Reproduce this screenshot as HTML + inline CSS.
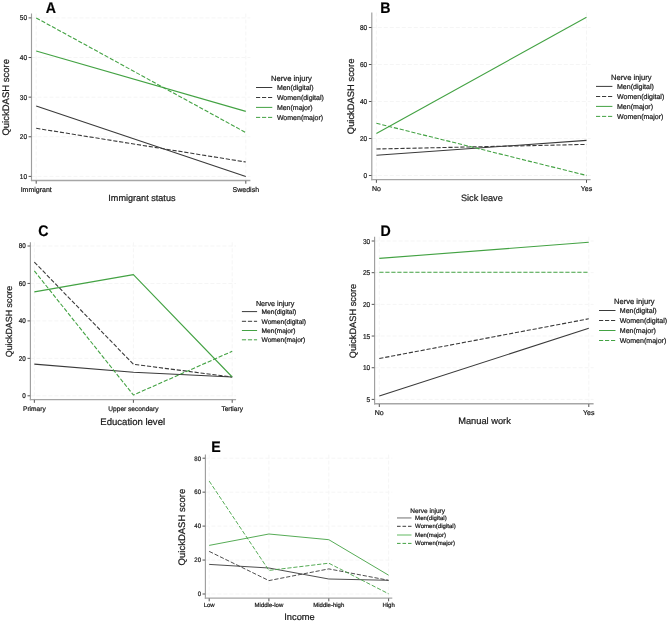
<!DOCTYPE html>
<html><head><meta charset="utf-8"><style>
html,body{margin:0;padding:0;background:#fff;}
body{width:669px;height:622px;overflow:hidden;}
svg{display:block;font-family:"Liberation Sans", sans-serif;will-change:transform;}
text{stroke:#1a1a1a;stroke-width:0.22px;text-rendering:geometricPrecision;}
</style></head><body>
<svg width="669" height="622" viewBox="0 0 669 622">
<rect width="669" height="622" fill="#fff"/>
<line x1="31.50" y1="176.40" x2="250.40" y2="176.40" stroke="#f5f5f5" stroke-width="1.0" stroke-dasharray="4 2" />
<line x1="31.50" y1="136.78" x2="250.40" y2="136.78" stroke="#f5f5f5" stroke-width="1.0" stroke-dasharray="4 2" />
<line x1="31.50" y1="97.15" x2="250.40" y2="97.15" stroke="#f5f5f5" stroke-width="1.0" stroke-dasharray="4 2" />
<line x1="31.50" y1="57.53" x2="250.40" y2="57.53" stroke="#f5f5f5" stroke-width="1.0" stroke-dasharray="4 2" />
<line x1="31.50" y1="17.90" x2="250.40" y2="17.90" stroke="#f5f5f5" stroke-width="1.0" stroke-dasharray="4 2" />
<line x1="36.20" y1="13.50" x2="36.20" y2="180.50" stroke="#f5f5f5" stroke-width="1.0" stroke-dasharray="4 2" />
<line x1="245.80" y1="13.50" x2="245.80" y2="180.50" stroke="#f5f5f5" stroke-width="1.0" stroke-dasharray="4 2" />
<line x1="31.50" y1="13.50" x2="31.50" y2="181.10" stroke="#9e9e9e" stroke-width="1.15" />
<line x1="30.90" y1="180.50" x2="250.40" y2="180.50" stroke="#a6a6a6" stroke-width="1.4" />
<line x1="28.60" y1="176.40" x2="31.20" y2="176.40" stroke="#555555" stroke-width="1" />
<text transform="translate(27.00,178.94) scale(0.92,1)" font-size="7.09" text-anchor="end" fill="#1a1a1a">10</text>
<line x1="28.60" y1="136.78" x2="31.20" y2="136.78" stroke="#555555" stroke-width="1" />
<text transform="translate(27.00,139.31) scale(0.92,1)" font-size="7.09" text-anchor="end" fill="#1a1a1a">20</text>
<line x1="28.60" y1="97.15" x2="31.20" y2="97.15" stroke="#555555" stroke-width="1" />
<text transform="translate(27.00,99.69) scale(0.92,1)" font-size="7.09" text-anchor="end" fill="#1a1a1a">30</text>
<line x1="28.60" y1="57.53" x2="31.20" y2="57.53" stroke="#555555" stroke-width="1" />
<text transform="translate(27.00,60.06) scale(0.92,1)" font-size="7.09" text-anchor="end" fill="#1a1a1a">40</text>
<line x1="28.60" y1="17.90" x2="31.20" y2="17.90" stroke="#555555" stroke-width="1" />
<text transform="translate(27.00,20.44) scale(0.92,1)" font-size="7.09" text-anchor="end" fill="#1a1a1a">50</text>
<line x1="36.20" y1="180.80" x2="36.20" y2="183.70" stroke="#555555" stroke-width="1" />
<text x="36.20" y="191.91" font-size="7.0" text-anchor="middle" font-weight="normal" fill="#1a1a1a" >Immigrant</text>
<line x1="245.80" y1="180.80" x2="245.80" y2="183.70" stroke="#555555" stroke-width="1" />
<text x="245.80" y="191.91" font-size="7.0" text-anchor="middle" font-weight="normal" fill="#1a1a1a" >Swedish</text>
<polyline points="36.20,105.90 245.80,176.50" fill="none" stroke="#3a3a3a" stroke-width="1.1" stroke-linejoin="round"/>
<polyline points="36.20,128.30 245.80,162.00" fill="none" stroke="#3a3a3a" stroke-width="1.1" stroke-dasharray="4.2 1.8" stroke-linejoin="round"/>
<polyline points="36.20,51.00 245.80,111.40" fill="none" stroke="#43a243" stroke-width="1.1" stroke-linejoin="round"/>
<polyline points="36.20,17.90 245.80,132.60" fill="none" stroke="#43a243" stroke-width="1.1" stroke-dasharray="4.2 1.8" stroke-linejoin="round"/>
<text x="141.90" y="201.10" font-size="9.1" text-anchor="middle" font-weight="normal" fill="#1a1a1a" >Immigrant status</text>
<text transform="translate(9.20,97.30) rotate(-90)" x="0" y="0" font-size="9.5" text-anchor="middle" fill="#1a1a1a">QuickDASH score</text>
<text transform="translate(45.70,12.70) scale(0.92,1)" font-size="15.4" font-weight="bold" fill="#000">A</text>
<text x="271.00" y="81.40" font-size="7.65" text-anchor="start" font-weight="normal" fill="#1a1a1a" >Nerve injury</text>
<line x1="256.00" y1="87.50" x2="272.30" y2="87.50" stroke="#3a3a3a" stroke-width="1.0" />
<text x="276.90" y="89.91" font-size="7.0" text-anchor="start" font-weight="normal" fill="#1a1a1a" >Men(digital)</text>
<line x1="256.00" y1="97.50" x2="272.30" y2="97.50" stroke="#3a3a3a" stroke-width="1.0" stroke-dasharray="4.2 1.8" />
<text x="276.90" y="99.91" font-size="7.0" text-anchor="start" font-weight="normal" fill="#1a1a1a" >Women(digital)</text>
<line x1="256.00" y1="107.40" x2="272.30" y2="107.40" stroke="#43a243" stroke-width="1.0" />
<text x="276.90" y="109.81" font-size="7.0" text-anchor="start" font-weight="normal" fill="#1a1a1a" >Men(major)</text>
<line x1="256.00" y1="117.40" x2="272.30" y2="117.40" stroke="#43a243" stroke-width="1.0" stroke-dasharray="4.2 1.8" />
<text x="276.90" y="119.81" font-size="7.0" text-anchor="start" font-weight="normal" fill="#1a1a1a" >Women(major)</text>
<line x1="371.80" y1="175.50" x2="590.60" y2="175.50" stroke="#f5f5f5" stroke-width="1.0" stroke-dasharray="4 2" />
<line x1="371.80" y1="138.50" x2="590.60" y2="138.50" stroke="#f5f5f5" stroke-width="1.0" stroke-dasharray="4 2" />
<line x1="371.80" y1="101.50" x2="590.60" y2="101.50" stroke="#f5f5f5" stroke-width="1.0" stroke-dasharray="4 2" />
<line x1="371.80" y1="64.50" x2="590.60" y2="64.50" stroke="#f5f5f5" stroke-width="1.0" stroke-dasharray="4 2" />
<line x1="371.80" y1="27.50" x2="590.60" y2="27.50" stroke="#f5f5f5" stroke-width="1.0" stroke-dasharray="4 2" />
<line x1="376.40" y1="12.50" x2="376.40" y2="179.60" stroke="#f5f5f5" stroke-width="1.0" stroke-dasharray="4 2" />
<line x1="586.50" y1="12.50" x2="586.50" y2="179.60" stroke="#f5f5f5" stroke-width="1.0" stroke-dasharray="4 2" />
<line x1="371.80" y1="12.50" x2="371.80" y2="180.20" stroke="#9e9e9e" stroke-width="1.15" />
<line x1="371.20" y1="179.60" x2="590.60" y2="179.60" stroke="#a6a6a6" stroke-width="1.4" />
<line x1="368.90" y1="175.50" x2="371.50" y2="175.50" stroke="#555555" stroke-width="1" />
<text transform="translate(367.20,178.04) scale(0.92,1)" font-size="7.09" text-anchor="end" fill="#1a1a1a">0</text>
<line x1="368.90" y1="138.50" x2="371.50" y2="138.50" stroke="#555555" stroke-width="1" />
<text transform="translate(367.20,141.04) scale(0.92,1)" font-size="7.09" text-anchor="end" fill="#1a1a1a">20</text>
<line x1="368.90" y1="101.50" x2="371.50" y2="101.50" stroke="#555555" stroke-width="1" />
<text transform="translate(367.20,104.04) scale(0.92,1)" font-size="7.09" text-anchor="end" fill="#1a1a1a">40</text>
<line x1="368.90" y1="64.50" x2="371.50" y2="64.50" stroke="#555555" stroke-width="1" />
<text transform="translate(367.20,67.04) scale(0.92,1)" font-size="7.09" text-anchor="end" fill="#1a1a1a">60</text>
<line x1="368.90" y1="27.50" x2="371.50" y2="27.50" stroke="#555555" stroke-width="1" />
<text transform="translate(367.20,30.04) scale(0.92,1)" font-size="7.09" text-anchor="end" fill="#1a1a1a">80</text>
<line x1="376.40" y1="179.90" x2="376.40" y2="182.80" stroke="#555555" stroke-width="1" />
<text x="376.40" y="190.91" font-size="7.0" text-anchor="middle" font-weight="normal" fill="#1a1a1a" >No</text>
<line x1="586.50" y1="179.90" x2="586.50" y2="182.80" stroke="#555555" stroke-width="1" />
<text x="586.50" y="190.91" font-size="7.0" text-anchor="middle" font-weight="normal" fill="#1a1a1a" >Yes</text>
<polyline points="376.40,155.20 586.50,140.40" fill="none" stroke="#3a3a3a" stroke-width="1.1" stroke-linejoin="round"/>
<polyline points="376.40,149.00 586.50,144.40" fill="none" stroke="#3a3a3a" stroke-width="1.1" stroke-dasharray="4.2 1.8" stroke-linejoin="round"/>
<polyline points="376.40,133.50 586.50,17.20" fill="none" stroke="#43a243" stroke-width="1.1" stroke-linejoin="round"/>
<polyline points="376.40,123.30 586.50,175.40" fill="none" stroke="#43a243" stroke-width="1.1" stroke-dasharray="4.2 1.8" stroke-linejoin="round"/>
<text x="481.90" y="200.60" font-size="9.2" text-anchor="middle" font-weight="normal" fill="#1a1a1a" >Sick leave</text>
<text transform="translate(354.10,96.40) rotate(-90)" x="0" y="0" font-size="9.4" text-anchor="middle" fill="#1a1a1a">QuickDASH score</text>
<text transform="translate(380.20,12.70) scale(0.92,1)" font-size="15.4" font-weight="bold" fill="#000">B</text>
<text x="611.10" y="79.90" font-size="7.6" text-anchor="start" font-weight="normal" fill="#1a1a1a" >Nerve injury</text>
<line x1="596.00" y1="86.40" x2="612.40" y2="86.40" stroke="#3a3a3a" stroke-width="1.0" />
<text x="617.00" y="88.83" font-size="7.05" text-anchor="start" font-weight="normal" fill="#1a1a1a" >Men(digital)</text>
<line x1="596.00" y1="96.50" x2="612.40" y2="96.50" stroke="#3a3a3a" stroke-width="1.0" stroke-dasharray="4.2 1.8" />
<text x="617.00" y="98.93" font-size="7.05" text-anchor="start" font-weight="normal" fill="#1a1a1a" >Women(digital)</text>
<line x1="596.00" y1="106.40" x2="612.40" y2="106.40" stroke="#43a243" stroke-width="1.0" />
<text x="617.00" y="108.83" font-size="7.05" text-anchor="start" font-weight="normal" fill="#1a1a1a" >Men(major)</text>
<line x1="596.00" y1="116.40" x2="612.40" y2="116.40" stroke="#43a243" stroke-width="1.0" stroke-dasharray="4.2 1.8" />
<text x="617.00" y="118.83" font-size="7.05" text-anchor="start" font-weight="normal" fill="#1a1a1a" >Women(major)</text>
<line x1="30.40" y1="395.80" x2="236.10" y2="395.80" stroke="#f5f5f5" stroke-width="1.0" stroke-dasharray="4 2" />
<line x1="30.40" y1="358.35" x2="236.10" y2="358.35" stroke="#f5f5f5" stroke-width="1.0" stroke-dasharray="4 2" />
<line x1="30.40" y1="320.90" x2="236.10" y2="320.90" stroke="#f5f5f5" stroke-width="1.0" stroke-dasharray="4 2" />
<line x1="30.40" y1="283.45" x2="236.10" y2="283.45" stroke="#f5f5f5" stroke-width="1.0" stroke-dasharray="4 2" />
<line x1="30.40" y1="246.00" x2="236.10" y2="246.00" stroke="#f5f5f5" stroke-width="1.0" stroke-dasharray="4 2" />
<line x1="34.35" y1="242.30" x2="34.35" y2="399.60" stroke="#f5f5f5" stroke-width="1.0" stroke-dasharray="4 2" />
<line x1="133.40" y1="242.30" x2="133.40" y2="399.60" stroke="#f5f5f5" stroke-width="1.0" stroke-dasharray="4 2" />
<line x1="232.20" y1="242.30" x2="232.20" y2="399.60" stroke="#f5f5f5" stroke-width="1.0" stroke-dasharray="4 2" />
<line x1="30.40" y1="242.30" x2="30.40" y2="400.20" stroke="#9e9e9e" stroke-width="1.15" />
<line x1="29.80" y1="399.60" x2="236.10" y2="399.60" stroke="#a6a6a6" stroke-width="1.4" />
<line x1="27.50" y1="395.80" x2="30.10" y2="395.80" stroke="#555555" stroke-width="1" />
<text transform="translate(25.80,398.26) scale(0.92,1)" font-size="6.87" text-anchor="end" fill="#1a1a1a">0</text>
<line x1="27.50" y1="358.35" x2="30.10" y2="358.35" stroke="#555555" stroke-width="1" />
<text transform="translate(25.80,360.81) scale(0.92,1)" font-size="6.87" text-anchor="end" fill="#1a1a1a">20</text>
<line x1="27.50" y1="320.90" x2="30.10" y2="320.90" stroke="#555555" stroke-width="1" />
<text transform="translate(25.80,323.36) scale(0.92,1)" font-size="6.87" text-anchor="end" fill="#1a1a1a">40</text>
<line x1="27.50" y1="283.45" x2="30.10" y2="283.45" stroke="#555555" stroke-width="1" />
<text transform="translate(25.80,285.91) scale(0.92,1)" font-size="6.87" text-anchor="end" fill="#1a1a1a">60</text>
<line x1="27.50" y1="246.00" x2="30.10" y2="246.00" stroke="#555555" stroke-width="1" />
<text transform="translate(25.80,248.46) scale(0.92,1)" font-size="6.87" text-anchor="end" fill="#1a1a1a">80</text>
<line x1="34.35" y1="399.90" x2="34.35" y2="402.80" stroke="#555555" stroke-width="1" />
<text x="34.35" y="410.67" font-size="6.6" text-anchor="middle" font-weight="normal" fill="#1a1a1a" >Primary</text>
<line x1="133.40" y1="399.90" x2="133.40" y2="402.80" stroke="#555555" stroke-width="1" />
<text x="133.40" y="410.67" font-size="6.6" text-anchor="middle" font-weight="normal" fill="#1a1a1a" >Upper secondary</text>
<line x1="232.20" y1="399.90" x2="232.20" y2="402.80" stroke="#555555" stroke-width="1" />
<text x="232.20" y="410.67" font-size="6.6" text-anchor="middle" font-weight="normal" fill="#1a1a1a" >Tertiary</text>
<polyline points="34.35,364.10 133.40,372.20 232.20,377.00" fill="none" stroke="#3a3a3a" stroke-width="1.1" stroke-linejoin="round"/>
<polyline points="34.35,262.10 133.40,364.30 232.20,377.00" fill="none" stroke="#3a3a3a" stroke-width="1.1" stroke-dasharray="4.2 1.8" stroke-linejoin="round"/>
<polyline points="34.35,291.90 133.40,274.60 232.20,377.00" fill="none" stroke="#43a243" stroke-width="1.1" stroke-linejoin="round"/>
<polyline points="34.35,270.90 133.40,395.00 232.20,351.30" fill="none" stroke="#43a243" stroke-width="1.1" stroke-dasharray="4.2 1.8" stroke-linejoin="round"/>
<text x="132.70" y="424.90" font-size="9.55" text-anchor="middle" font-weight="normal" fill="#1a1a1a" >Education level</text>
<text transform="translate(12.40,321.50) rotate(-90)" x="0" y="0" font-size="8.9" text-anchor="middle" fill="#1a1a1a">QuickDASH score</text>
<text transform="translate(38.20,235.70) scale(0.92,1)" font-size="15.4" font-weight="bold" fill="#000">C</text>
<text x="255.90" y="305.50" font-size="7.2" text-anchor="start" font-weight="normal" fill="#1a1a1a" >Nerve injury</text>
<line x1="241.90" y1="311.60" x2="257.10" y2="311.60" stroke="#3a3a3a" stroke-width="1.0" />
<text x="261.50" y="313.89" font-size="6.65" text-anchor="start" font-weight="normal" fill="#1a1a1a" >Men(digital)</text>
<line x1="241.90" y1="321.30" x2="257.10" y2="321.30" stroke="#3a3a3a" stroke-width="1.0" stroke-dasharray="4.2 1.8" />
<text x="261.50" y="323.59" font-size="6.65" text-anchor="start" font-weight="normal" fill="#1a1a1a" >Women(digital)</text>
<line x1="241.90" y1="330.50" x2="257.10" y2="330.50" stroke="#43a243" stroke-width="1.0" />
<text x="261.50" y="332.79" font-size="6.65" text-anchor="start" font-weight="normal" fill="#1a1a1a" >Men(major)</text>
<line x1="241.90" y1="339.80" x2="257.10" y2="339.80" stroke="#43a243" stroke-width="1.0" stroke-dasharray="4.2 1.8" />
<text x="261.50" y="342.09" font-size="6.65" text-anchor="start" font-weight="normal" fill="#1a1a1a" >Women(major)</text>
<line x1="374.60" y1="399.40" x2="593.60" y2="399.40" stroke="#f5f5f5" stroke-width="1.0" stroke-dasharray="4 2" />
<line x1="374.60" y1="367.72" x2="593.60" y2="367.72" stroke="#f5f5f5" stroke-width="1.0" stroke-dasharray="4 2" />
<line x1="374.60" y1="336.04" x2="593.60" y2="336.04" stroke="#f5f5f5" stroke-width="1.0" stroke-dasharray="4 2" />
<line x1="374.60" y1="304.36" x2="593.60" y2="304.36" stroke="#f5f5f5" stroke-width="1.0" stroke-dasharray="4 2" />
<line x1="374.60" y1="272.68" x2="593.60" y2="272.68" stroke="#f5f5f5" stroke-width="1.0" stroke-dasharray="4 2" />
<line x1="374.60" y1="241.00" x2="593.60" y2="241.00" stroke="#f5f5f5" stroke-width="1.0" stroke-dasharray="4 2" />
<line x1="379.30" y1="236.70" x2="379.30" y2="403.80" stroke="#f5f5f5" stroke-width="1.0" stroke-dasharray="4 2" />
<line x1="588.80" y1="236.70" x2="588.80" y2="403.80" stroke="#f5f5f5" stroke-width="1.0" stroke-dasharray="4 2" />
<line x1="374.60" y1="236.70" x2="374.60" y2="404.40" stroke="#9e9e9e" stroke-width="1.15" />
<line x1="374.00" y1="403.80" x2="593.60" y2="403.80" stroke="#a6a6a6" stroke-width="1.4" />
<line x1="371.70" y1="399.40" x2="374.30" y2="399.40" stroke="#555555" stroke-width="1" />
<text transform="translate(370.20,401.94) scale(0.92,1)" font-size="7.09" text-anchor="end" fill="#1a1a1a">5</text>
<line x1="371.70" y1="367.72" x2="374.30" y2="367.72" stroke="#555555" stroke-width="1" />
<text transform="translate(370.20,370.26) scale(0.92,1)" font-size="7.09" text-anchor="end" fill="#1a1a1a">10</text>
<line x1="371.70" y1="336.04" x2="374.30" y2="336.04" stroke="#555555" stroke-width="1" />
<text transform="translate(370.20,338.58) scale(0.92,1)" font-size="7.09" text-anchor="end" fill="#1a1a1a">15</text>
<line x1="371.70" y1="304.36" x2="374.30" y2="304.36" stroke="#555555" stroke-width="1" />
<text transform="translate(370.20,306.90) scale(0.92,1)" font-size="7.09" text-anchor="end" fill="#1a1a1a">20</text>
<line x1="371.70" y1="272.68" x2="374.30" y2="272.68" stroke="#555555" stroke-width="1" />
<text transform="translate(370.20,275.22) scale(0.92,1)" font-size="7.09" text-anchor="end" fill="#1a1a1a">25</text>
<line x1="371.70" y1="241.00" x2="374.30" y2="241.00" stroke="#555555" stroke-width="1" />
<text transform="translate(370.20,243.54) scale(0.92,1)" font-size="7.09" text-anchor="end" fill="#1a1a1a">30</text>
<line x1="379.30" y1="404.10" x2="379.30" y2="407.00" stroke="#555555" stroke-width="1" />
<text x="379.30" y="414.91" font-size="7.0" text-anchor="middle" font-weight="normal" fill="#1a1a1a" >No</text>
<line x1="588.80" y1="404.10" x2="588.80" y2="407.00" stroke="#555555" stroke-width="1" />
<text x="588.80" y="414.91" font-size="7.0" text-anchor="middle" font-weight="normal" fill="#1a1a1a" >Yes</text>
<polyline points="379.30,396.10 588.80,328.20" fill="none" stroke="#3a3a3a" stroke-width="1.1" stroke-linejoin="round"/>
<polyline points="379.30,358.50 588.80,318.80" fill="none" stroke="#3a3a3a" stroke-width="1.1" stroke-dasharray="4.2 1.8" stroke-linejoin="round"/>
<polyline points="379.30,258.40 588.80,242.30" fill="none" stroke="#43a243" stroke-width="1.1" stroke-linejoin="round"/>
<polyline points="379.30,272.30 588.80,272.30" fill="none" stroke="#43a243" stroke-width="1.1" stroke-dasharray="4.2 1.8" stroke-linejoin="round"/>
<text x="484.50" y="423.80" font-size="9.3" text-anchor="middle" font-weight="normal" fill="#1a1a1a" >Manual work</text>
<text transform="translate(356.00,321.00) rotate(-90)" x="0" y="0" font-size="9.25" text-anchor="middle" fill="#1a1a1a">QuickDASH score</text>
<text transform="translate(380.40,235.80) scale(0.92,1)" font-size="15.4" font-weight="bold" fill="#000">D</text>
<text x="614.00" y="303.90" font-size="7.6" text-anchor="start" font-weight="normal" fill="#1a1a1a" >Nerve injury</text>
<line x1="599.00" y1="310.50" x2="615.50" y2="310.50" stroke="#3a3a3a" stroke-width="1.0" />
<text x="619.80" y="312.93" font-size="7.05" text-anchor="start" font-weight="normal" fill="#1a1a1a" >Men(digital)</text>
<line x1="599.00" y1="320.50" x2="615.50" y2="320.50" stroke="#3a3a3a" stroke-width="1.0" stroke-dasharray="4.2 1.8" />
<text x="619.80" y="322.93" font-size="7.05" text-anchor="start" font-weight="normal" fill="#1a1a1a" >Women(digital)</text>
<line x1="599.00" y1="330.50" x2="615.50" y2="330.50" stroke="#43a243" stroke-width="1.0" />
<text x="619.80" y="332.93" font-size="7.05" text-anchor="start" font-weight="normal" fill="#1a1a1a" >Men(major)</text>
<line x1="599.00" y1="340.50" x2="615.50" y2="340.50" stroke="#43a243" stroke-width="1.0" stroke-dasharray="4.2 1.8" />
<text x="619.80" y="342.93" font-size="7.05" text-anchor="start" font-weight="normal" fill="#1a1a1a" >Women(major)</text>
<line x1="205.40" y1="594.00" x2="392.30" y2="594.00" stroke="#f5f5f5" stroke-width="1.0" stroke-dasharray="4 2" />
<line x1="205.40" y1="560.05" x2="392.30" y2="560.05" stroke="#f5f5f5" stroke-width="1.0" stroke-dasharray="4 2" />
<line x1="205.40" y1="526.10" x2="392.30" y2="526.10" stroke="#f5f5f5" stroke-width="1.0" stroke-dasharray="4 2" />
<line x1="205.40" y1="492.15" x2="392.30" y2="492.15" stroke="#f5f5f5" stroke-width="1.0" stroke-dasharray="4 2" />
<line x1="205.40" y1="458.20" x2="392.30" y2="458.20" stroke="#f5f5f5" stroke-width="1.0" stroke-dasharray="4 2" />
<line x1="209.20" y1="454.60" x2="209.20" y2="598.10" stroke="#f5f5f5" stroke-width="1.0" stroke-dasharray="4 2" />
<line x1="268.90" y1="454.60" x2="268.90" y2="598.10" stroke="#f5f5f5" stroke-width="1.0" stroke-dasharray="4 2" />
<line x1="328.80" y1="454.60" x2="328.80" y2="598.10" stroke="#f5f5f5" stroke-width="1.0" stroke-dasharray="4 2" />
<line x1="388.60" y1="454.60" x2="388.60" y2="598.10" stroke="#f5f5f5" stroke-width="1.0" stroke-dasharray="4 2" />
<line x1="205.40" y1="454.60" x2="205.40" y2="598.70" stroke="#9e9e9e" stroke-width="1.15" />
<line x1="204.80" y1="598.10" x2="392.30" y2="598.10" stroke="#a6a6a6" stroke-width="1.4" />
<line x1="202.50" y1="594.00" x2="205.10" y2="594.00" stroke="#555555" stroke-width="1" />
<text transform="translate(201.00,596.34) scale(0.92,1)" font-size="6.54" text-anchor="end" fill="#1a1a1a">0</text>
<line x1="202.50" y1="560.05" x2="205.10" y2="560.05" stroke="#555555" stroke-width="1" />
<text transform="translate(201.00,562.39) scale(0.92,1)" font-size="6.54" text-anchor="end" fill="#1a1a1a">20</text>
<line x1="202.50" y1="526.10" x2="205.10" y2="526.10" stroke="#555555" stroke-width="1" />
<text transform="translate(201.00,528.44) scale(0.92,1)" font-size="6.54" text-anchor="end" fill="#1a1a1a">40</text>
<line x1="202.50" y1="492.15" x2="205.10" y2="492.15" stroke="#555555" stroke-width="1" />
<text transform="translate(201.00,494.49) scale(0.92,1)" font-size="6.54" text-anchor="end" fill="#1a1a1a">60</text>
<line x1="202.50" y1="458.20" x2="205.10" y2="458.20" stroke="#555555" stroke-width="1" />
<text transform="translate(201.00,460.54) scale(0.92,1)" font-size="6.54" text-anchor="end" fill="#1a1a1a">80</text>
<line x1="209.20" y1="598.40" x2="209.20" y2="601.30" stroke="#555555" stroke-width="1" />
<text x="209.20" y="607.46" font-size="6.0" text-anchor="middle" font-weight="normal" fill="#1a1a1a" >Low</text>
<line x1="268.90" y1="598.40" x2="268.90" y2="601.30" stroke="#555555" stroke-width="1" />
<text x="268.90" y="607.46" font-size="6.0" text-anchor="middle" font-weight="normal" fill="#1a1a1a" >Middle-low</text>
<line x1="328.80" y1="598.40" x2="328.80" y2="601.30" stroke="#555555" stroke-width="1" />
<text x="328.80" y="607.46" font-size="6.0" text-anchor="middle" font-weight="normal" fill="#1a1a1a" >Middle-high</text>
<line x1="388.60" y1="598.40" x2="388.60" y2="601.30" stroke="#555555" stroke-width="1" />
<text x="388.60" y="607.46" font-size="6.0" text-anchor="middle" font-weight="normal" fill="#1a1a1a" >High</text>
<polyline points="209.20,564.40 268.90,568.00 328.80,579.00 388.60,580.30" fill="none" stroke="#3a3a3a" stroke-width="0.9" stroke-linejoin="round"/>
<polyline points="209.20,551.40 268.90,580.60 328.80,568.90 388.60,580.30" fill="none" stroke="#3a3a3a" stroke-width="0.9" stroke-dasharray="4.2 1.8" stroke-linejoin="round"/>
<polyline points="209.20,545.40 268.90,534.00 328.80,539.70 388.60,575.20" fill="none" stroke="#43a243" stroke-width="0.9" stroke-linejoin="round"/>
<polyline points="209.20,481.10 268.90,570.40 328.80,563.20 388.60,593.80" fill="none" stroke="#43a243" stroke-width="0.9" stroke-dasharray="4.2 1.8" stroke-linejoin="round"/>
<text x="299.50" y="619.70" font-size="9.3" text-anchor="middle" font-weight="normal" fill="#1a1a1a" >Income</text>
<text transform="translate(185.30,527.10) rotate(-90)" x="0" y="0" font-size="9.5" text-anchor="middle" fill="#1a1a1a">QuickDASH score</text>
<text transform="translate(211.20,451.80) scale(0.92,1)" font-size="15.4" font-weight="bold" fill="#000">E</text>
<text x="410.30" y="512.60" font-size="6.5" text-anchor="start" font-weight="normal" fill="#1a1a1a" >Nerve injury</text>
<line x1="397.00" y1="517.90" x2="411.50" y2="517.90" stroke="#b0b0b0" stroke-width="1.8" />
<text x="415.10" y="519.98" font-size="6.05" text-anchor="start" font-weight="normal" fill="#1a1a1a" >Men(digital)</text>
<line x1="397.00" y1="526.30" x2="411.50" y2="526.30" stroke="#3a3a3a" stroke-width="1.0" stroke-dasharray="3.6 1.9" />
<text x="415.10" y="528.38" font-size="6.05" text-anchor="start" font-weight="normal" fill="#1a1a1a" >Women(digital)</text>
<line x1="397.00" y1="535.00" x2="411.50" y2="535.00" stroke="#a8d8a8" stroke-width="1.8" />
<text x="415.10" y="537.08" font-size="6.05" text-anchor="start" font-weight="normal" fill="#1a1a1a" >Men(major)</text>
<line x1="397.00" y1="543.40" x2="411.50" y2="543.40" stroke="#43a243" stroke-width="1.0" stroke-dasharray="3.6 1.9" />
<text x="415.10" y="545.48" font-size="6.05" text-anchor="start" font-weight="normal" fill="#1a1a1a" >Women(major)</text>
</svg>
</body></html>
